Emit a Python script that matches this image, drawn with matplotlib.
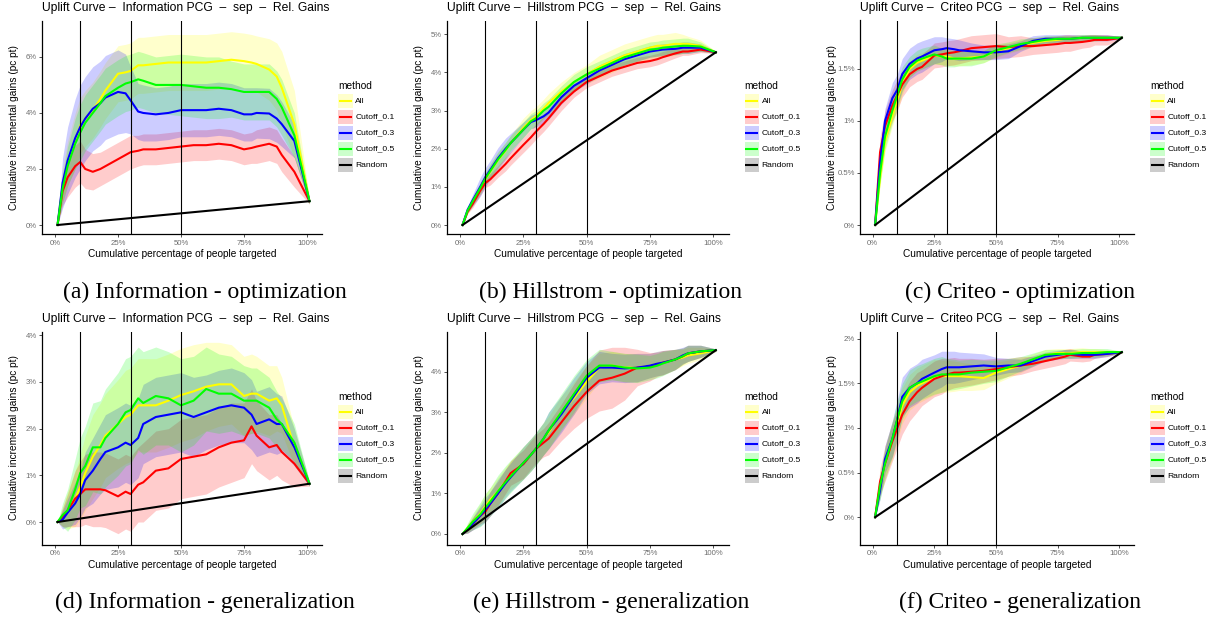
import numpy as np
import matplotlib
matplotlib.use("Agg")
import matplotlib.pyplot as plt
from matplotlib.patches import Rectangle

W, H = 1208, 621
plt.rcParams['font.family'] = ['Liberation Sans', 'DejaVu Sans']

# percentage of people targeted, shared by every curve
X_PCT = [1, 3, 5, 8, 10, 12, 15, 18, 20, 25, 28, 30, 33, 35, 40, 45, 50,
         55, 60, 65, 70, 75, 78, 80, 85, 88, 90, 95, 101]
RANDOM_X = [1, 101]
CUTOFFS = [10, 30, 50]
METHODS = ['All', 'Cutoff_0.1', 'Cutoff_0.3', 'Cutoff_0.5']

# ---- Information, optimization
INFO_OPT_ALL = [0, 1.4, 2.2, 3.0, 3.55, 3.8, 4.1, 4.5, 4.8, 5.4, 5.45, 5.5, 5.7, 5.7, 5.75, 5.8, 5.8,
                5.8, 5.8, 5.85, 5.9, 5.85, 5.8, 5.75, 5.55, 5.3, 4.9, 3.6, 0.85]
INFO_OPT_ALL_SD = [0, 0.6, 0.8, 1.0, 1.0, 1.0, 1.0, 1.0, 1.0, 1.0, 1.0, 1.0, 1.0, 1.0, 1.0, 1.0, 1.0,
                   1.0, 1.0, 1.0, 1.0, 1.0, 1.0, 1.0, 1.1, 1.2, 1.3, 1.2, 0.1]
INFO_OPT_C01 = [0, 1.2, 1.7, 2.1, 2.25, 2.0, 1.9, 2.0, 2.1, 2.35, 2.5, 2.6, 2.65, 2.7, 2.7, 2.75, 2.8,
                2.85, 2.85, 2.9, 2.85, 2.7, 2.75, 2.8, 2.9, 2.8, 2.5, 1.9, 0.85]
INFO_OPT_C01_SD = [0, 0.5, 0.7, 0.75, 0.75, 0.7, 0.65, 0.6, 0.6, 0.6, 0.6, 0.6, 0.55, 0.55, 0.55, 0.55, 0.55,
                   0.55, 0.55, 0.55, 0.55, 0.55, 0.55, 0.6, 0.6, 0.6, 0.6, 0.55, 0.1]
INFO_OPT_C03 = [0, 1.5, 2.3, 3.1, 3.5, 3.8, 4.15, 4.35, 4.55, 4.75, 4.7, 4.45, 4.05, 4.0, 3.95, 4.0, 4.1,
                4.1, 4.1, 4.15, 4.1, 3.95, 3.95, 4.0, 3.98, 3.8, 3.6, 3.0, 0.85]
INFO_OPT_C03_SD = [0, 0.9, 1.2, 1.4, 1.5, 1.5, 1.5, 1.5, 1.5, 1.5, 1.4, 1.2, 1.0, 1.0, 0.95, 0.95, 0.95,
                   0.95, 0.95, 0.95, 0.95, 0.95, 0.95, 0.9, 0.9, 0.85, 0.8, 0.6, 0.1]
INFO_OPT_C05 = [0, 1.3, 2.1, 2.9, 3.3, 3.65, 4.0, 4.35, 4.6, 4.9, 5.05, 5.1, 5.2, 5.15, 5.0, 5.0, 5.0,
                4.95, 4.9, 4.9, 4.85, 4.75, 4.75, 4.75, 4.75, 4.5, 4.2, 3.2, 0.85]
INFO_OPT_C05_SD = [0, 0.5, 0.7, 0.9, 1.0, 1.0, 1.0, 1.0, 1.0, 1.0, 1.0, 1.0, 1.0, 1.0, 1.0, 1.05, 1.1,
                   1.1, 1.1, 1.1, 1.0, 1.0, 1.0, 1.0, 1.0, 1.0, 1.0, 0.8, 0.1]
INFO_OPT_RANDOM = [0, 0.85]

# ---- Hillstrom, optimization
HILL_OPT_ALL = [0, 0.35, 0.6, 0.95, 1.2, 1.4, 1.7, 1.95, 2.15, 2.55, 2.75, 2.85, 3.05, 3.2, 3.5, 3.75, 3.95,
                4.15, 4.3, 4.45, 4.55, 4.65, 4.7, 4.7, 4.75, 4.75, 4.75, 4.7, 4.53]
HILL_OPT_ALL_SD = [0, 0.05, 0.1, 0.15, 0.15, 0.2, 0.2, 0.2, 0.2, 0.25, 0.25, 0.25, 0.25, 0.25, 0.25, 0.25, 0.25,
                   0.3, 0.3, 0.3, 0.3, 0.3, 0.3, 0.3, 0.3, 0.25, 0.2, 0.15, 0.03]
HILL_OPT_C01 = [0, 0.35, 0.55, 0.9, 1.1, 1.2, 1.4, 1.6, 1.75, 2.1, 2.3, 2.45, 2.65, 2.8, 3.2, 3.5, 3.75,
                3.9, 4.05, 4.15, 4.25, 4.3, 4.35, 4.4, 4.5, 4.55, 4.55, 4.6, 4.53]
HILL_OPT_C01_SD = [0, 0.05, 0.1, 0.12, 0.12, 0.15, 0.15, 0.18, 0.18, 0.2, 0.2, 0.2, 0.2, 0.2, 0.2, 0.15, 0.15,
                   0.15, 0.15, 0.15, 0.15, 0.15, 0.15, 0.15, 0.12, 0.1, 0.1, 0.08, 0.03]
HILL_OPT_C03 = [0, 0.4, 0.65, 1.0, 1.25, 1.45, 1.75, 2.0, 2.15, 2.5, 2.7, 2.75, 2.85, 2.95, 3.35, 3.65, 3.85,
                4.05, 4.2, 4.35, 4.45, 4.55, 4.58, 4.6, 4.62, 4.65, 4.65, 4.65, 4.53]
HILL_OPT_C03_SD = [0, 0.08, 0.15, 0.25, 0.25, 0.25, 0.28, 0.28, 0.25, 0.2, 0.18, 0.18, 0.18, 0.18, 0.18, 0.15, 0.15,
                   0.15, 0.15, 0.15, 0.15, 0.15, 0.15, 0.15, 0.15, 0.15, 0.15, 0.1, 0.03]
HILL_OPT_C05 = [0, 0.38, 0.62, 0.97, 1.22, 1.42, 1.72, 1.97, 2.15, 2.5, 2.72, 2.8, 3.0, 3.1, 3.45, 3.75, 3.95,
                4.1, 4.25, 4.4, 4.5, 4.6, 4.62, 4.65, 4.68, 4.7, 4.7, 4.68, 4.53]
HILL_OPT_C05_SD = [0, 0.06, 0.1, 0.15, 0.15, 0.18, 0.2, 0.2, 0.2, 0.2, 0.2, 0.2, 0.2, 0.2, 0.2, 0.2, 0.2,
                   0.2, 0.2, 0.2, 0.2, 0.2, 0.2, 0.2, 0.2, 0.2, 0.2, 0.12, 0.03]
HILL_OPT_RANDOM = [0, 4.53]

# ---- Criteo, optimization
CRIT_OPT_ALL = [0, 0.45, 0.8, 1.05, 1.2, 1.35, 1.5, 1.56, 1.58, 1.63, 1.62, 1.62, 1.60, 1.60, 1.61, 1.62, 1.67,
                1.70, 1.73, 1.75, 1.77, 1.78, 1.79, 1.79, 1.80, 1.80, 1.80, 1.80, 1.80]
CRIT_OPT_ALL_SD = [0, 0.08, 0.1, 0.1, 0.1, 0.1, 0.08, 0.08, 0.08, 0.08, 0.08, 0.08, 0.07, 0.07, 0.07, 0.06, 0.06,
                   0.05, 0.05, 0.04, 0.04, 0.03, 0.03, 0.03, 0.03, 0.03, 0.03, 0.02, 0.01]
CRIT_OPT_C01 = [0, 0.7, 0.95, 1.15, 1.25, 1.35, 1.45, 1.5, 1.52, 1.63, 1.64, 1.65, 1.66, 1.67, 1.70, 1.71, 1.72,
                1.71, 1.72, 1.72, 1.73, 1.74, 1.75, 1.75, 1.76, 1.77, 1.78, 1.78, 1.80]
CRIT_OPT_C01_SD = [0, 0.15, 0.15, 0.15, 0.15, 0.12, 0.12, 0.12, 0.12, 0.12, 0.12, 0.12, 0.12, 0.12, 0.12, 0.12, 0.12,
                   0.1, 0.1, 0.08, 0.08, 0.08, 0.08, 0.08, 0.06, 0.06, 0.05, 0.05, 0.01]
CRIT_OPT_C03 = [0, 0.6, 1.0, 1.22, 1.3, 1.45, 1.55, 1.6, 1.62, 1.68, 1.69, 1.70, 1.69, 1.68, 1.67, 1.66, 1.66,
                1.67, 1.72, 1.77, 1.79, 1.79, 1.79, 1.79, 1.80, 1.80, 1.80, 1.80, 1.80]
CRIT_OPT_C03_SD = [0, 0.1, 0.12, 0.15, 0.15, 0.15, 0.15, 0.15, 0.15, 0.13, 0.12, 0.1, 0.1, 0.1, 0.08, 0.07, 0.07,
                   0.07, 0.05, 0.05, 0.04, 0.04, 0.04, 0.04, 0.03, 0.03, 0.03, 0.03, 0.01]
CRIT_OPT_C05 = [0, 0.5, 0.85, 1.1, 1.25, 1.4, 1.52, 1.58, 1.6, 1.64, 1.62, 1.6, 1.6, 1.6, 1.6, 1.62, 1.68,
                1.71, 1.74, 1.76, 1.78, 1.79, 1.79, 1.79, 1.80, 1.80, 1.80, 1.80, 1.80]
CRIT_OPT_C05_SD = [0, 0.1, 0.12, 0.12, 0.12, 0.12, 0.1, 0.1, 0.1, 0.09, 0.08, 0.08, 0.08, 0.07, 0.07, 0.06, 0.06,
                   0.05, 0.05, 0.04, 0.04, 0.03, 0.03, 0.03, 0.03, 0.03, 0.03, 0.02, 0.01]
CRIT_OPT_RANDOM = [0, 1.80]

# ---- Information, generalization
INFO_GEN_ALL = [0, 0.1, 0.25, 0.5, 0.75, 1.05, 1.4, 1.65, 1.85, 2.1, 2.25, 2.3, 2.5, 2.5, 2.5, 2.6, 2.72,
                2.8, 2.9, 2.95, 2.95, 2.7, 2.75, 2.75, 2.6, 2.65, 2.5, 1.6, 0.82]
INFO_GEN_ALL_SD = [0, 0.2, 0.4, 0.6, 0.7, 0.8, 0.9, 0.9, 0.9, 0.95, 1.0, 1.0, 1.0, 1.0, 1.0, 1.0, 1.0,
                   1.0, 0.95, 0.9, 0.85, 0.85, 0.85, 0.8, 0.75, 0.7, 0.6, 0.4, 0.05]
INFO_GEN_C01 = [0, 0.1, 0.25, 0.5, 0.6, 0.7, 0.7, 0.7, 0.68, 0.55, 0.65, 0.6, 0.8, 0.85, 1.1, 1.15, 1.35,
                1.4, 1.45, 1.6, 1.7, 1.75, 2.05, 1.85, 1.6, 1.65, 1.5, 1.25, 0.82]
INFO_GEN_C01_SD = [0, 0.2, 0.35, 0.6, 0.7, 0.75, 0.8, 0.8, 0.8, 0.8, 0.8, 0.8, 0.8, 0.85, 0.85, 0.85, 0.85,
                   0.85, 0.85, 0.85, 0.85, 0.8, 0.8, 0.75, 0.7, 0.65, 0.6, 0.5, 0.05]
INFO_GEN_C03 = [0, 0.05, 0.2, 0.4, 0.6, 0.9, 1.1, 1.35, 1.5, 1.6, 1.7, 1.65, 1.8, 2.1, 2.25, 2.3, 2.35,
                2.25, 2.35, 2.45, 2.5, 2.45, 2.3, 2.1, 2.2, 2.1, 2.1, 1.6, 0.82]
INFO_GEN_C03_SD = [0, 0.2, 0.3, 0.45, 0.5, 0.6, 0.7, 0.75, 0.8, 0.85, 0.85, 0.85, 0.85, 0.85, 0.85, 0.85, 0.85,
                   0.85, 0.8, 0.8, 0.8, 0.75, 0.75, 0.7, 0.7, 0.65, 0.6, 0.4, 0.05]
INFO_GEN_C05 = [0, 0.15, 0.25, 0.7, 1.05, 1.2, 1.6, 1.6, 1.8, 2.1, 2.35, 2.4, 2.65, 2.55, 2.7, 2.65, 2.5,
                2.6, 2.85, 2.75, 2.75, 2.6, 2.6, 2.6, 2.45, 2.2, 2.1, 1.7, 0.82]
INFO_GEN_C05_SD = [0, 0.25, 0.45, 0.65, 0.75, 0.85, 0.95, 1.0, 1.05, 1.1, 1.15, 1.15, 1.1, 1.1, 1.05, 1.0, 1.0,
                   0.95, 0.9, 0.85, 0.8, 0.75, 0.7, 0.7, 0.65, 0.6, 0.55, 0.4, 0.05]
INFO_GEN_RANDOM = [0, 0.82]

# ---- Hillstrom, generalization
HILL_GEN_ALL = [0, 0.15, 0.3, 0.5, 0.68, 0.85, 1.05, 1.3, 1.45, 1.75, 1.95, 2.1, 2.35, 2.5, 3.0, 3.35, 3.75,
                4.1, 4.15, 4.1, 4.1, 4.15, 4.2, 4.22, 4.3, 4.35, 4.4, 4.45, 4.53]
HILL_GEN_ALL_SD = [0, 0.1, 0.15, 0.25, 0.3, 0.3, 0.35, 0.35, 0.35, 0.4, 0.4, 0.4, 0.4, 0.4, 0.4, 0.4, 0.4,
                   0.35, 0.35, 0.35, 0.35, 0.3, 0.3, 0.3, 0.25, 0.2, 0.2, 0.15, 0.03]
HILL_GEN_C01 = [0, 0.12, 0.25, 0.45, 0.55, 0.75, 1.0, 1.3, 1.5, 1.72, 1.95, 2.1, 2.25, 2.35, 2.75, 3.15, 3.5,
                3.78, 3.85, 3.95, 4.1, 4.12, 4.18, 4.22, 4.3, 4.38, 4.45, 4.5, 4.53]
HILL_GEN_C01_SD = [0, 0.1, 0.15, 0.2, 0.25, 0.3, 0.3, 0.3, 0.3, 0.35, 0.35, 0.35, 0.35, 0.4, 0.45, 0.55, 0.65,
                   0.75, 0.75, 0.65, 0.45, 0.35, 0.3, 0.3, 0.25, 0.2, 0.2, 0.15, 0.03]
HILL_GEN_C03 = [0, 0.12, 0.25, 0.45, 0.6, 0.75, 1.0, 1.25, 1.4, 1.75, 1.95, 2.1, 2.35, 2.55, 2.95, 3.4, 3.85,
                4.1, 4.1, 4.08, 4.1, 4.15, 4.2, 4.22, 4.3, 4.4, 4.45, 4.5, 4.53]
HILL_GEN_C03_SD = [0, 0.1, 0.15, 0.25, 0.3, 0.3, 0.35, 0.35, 0.35, 0.4, 0.4, 0.4, 0.4, 0.45, 0.45, 0.45, 0.4,
                   0.4, 0.35, 0.35, 0.35, 0.3, 0.3, 0.3, 0.25, 0.2, 0.2, 0.15, 0.03]
HILL_GEN_C05 = [0, 0.15, 0.3, 0.48, 0.65, 0.8, 1.05, 1.28, 1.42, 1.75, 1.95, 2.1, 2.35, 2.55, 3.0, 3.45, 3.9,
                4.15, 4.15, 4.1, 4.08, 4.1, 4.15, 4.2, 4.3, 4.38, 4.45, 4.5, 4.53]
HILL_GEN_C05_SD = [0, 0.12, 0.2, 0.3, 0.35, 0.35, 0.4, 0.4, 0.4, 0.4, 0.4, 0.4, 0.4, 0.45, 0.45, 0.45, 0.4,
                   0.4, 0.35, 0.35, 0.35, 0.3, 0.3, 0.3, 0.25, 0.2, 0.2, 0.15, 0.03]
HILL_GEN_RANDOM = [0, 4.53]

# ---- Criteo, generalization
CRIT_GEN_ALL = [0, 0.35, 0.6, 0.85, 1.05, 1.25, 1.4, 1.47, 1.5, 1.57, 1.58, 1.58, 1.58, 1.58, 1.57, 1.56, 1.62,
                1.66, 1.7, 1.76, 1.82, 1.84, 1.84, 1.84, 1.85, 1.85, 1.85, 1.85, 1.85]
CRIT_GEN_ALL_SD = [0, 0.12, 0.15, 0.2, 0.2, 0.2, 0.2, 0.2, 0.2, 0.2, 0.18, 0.18, 0.17, 0.16, 0.15, 0.13, 0.12,
                   0.1, 0.08, 0.07, 0.06, 0.05, 0.05, 0.05, 0.05, 0.04, 0.04, 0.03, 0.01]
CRIT_GEN_C01 = [0, 0.4, 0.6, 0.85, 1.0, 1.15, 1.3, 1.4, 1.45, 1.55, 1.58, 1.6, 1.62, 1.62, 1.63, 1.64, 1.66,
                1.68, 1.7, 1.72, 1.75, 1.78, 1.8, 1.82, 1.8, 1.8, 1.82, 1.83, 1.85]
CRIT_GEN_C01_SD = [0, 0.15, 0.2, 0.22, 0.22, 0.22, 0.22, 0.22, 0.2, 0.2, 0.2, 0.18, 0.17, 0.16, 0.15, 0.13, 0.12,
                   0.1, 0.1, 0.08, 0.08, 0.08, 0.08, 0.07, 0.06, 0.05, 0.04, 0.03, 0.01]
CRIT_GEN_C03 = [0, 0.3, 0.65, 0.88, 1.1, 1.35, 1.45, 1.5, 1.55, 1.62, 1.66, 1.68, 1.68, 1.68, 1.69, 1.70, 1.69,
                1.70, 1.70, 1.75, 1.8, 1.82, 1.83, 1.83, 1.82, 1.82, 1.82, 1.83, 1.85]
CRIT_GEN_C03_SD = [0, 0.1, 0.15, 0.2, 0.22, 0.22, 0.22, 0.22, 0.22, 0.2, 0.2, 0.18, 0.18, 0.17, 0.15, 0.13, 0.1,
                   0.08, 0.07, 0.06, 0.05, 0.05, 0.05, 0.05, 0.04, 0.04, 0.04, 0.03, 0.01]
CRIT_GEN_C05 = [0, 0.35, 0.6, 0.88, 1.1, 1.3, 1.45, 1.5, 1.52, 1.58, 1.6, 1.6, 1.6, 1.6, 1.62, 1.63, 1.64,
                1.68, 1.72, 1.77, 1.82, 1.83, 1.83, 1.83, 1.84, 1.84, 1.84, 1.85, 1.85]
CRIT_GEN_C05_SD = [0, 0.15, 0.18, 0.2, 0.2, 0.2, 0.2, 0.2, 0.2, 0.2, 0.2, 0.18, 0.17, 0.16, 0.15, 0.13, 0.12,
                   0.1, 0.08, 0.07, 0.06, 0.05, 0.05, 0.05, 0.05, 0.05, 0.05, 0.04, 0.01]
CRIT_GEN_RANDOM = [0, 1.85]

COLORS = {'All': '#FFFF00', 'Cutoff_0.1': '#FF0000', 'Cutoff_0.3': '#0000FF',
          'Cutoff_0.5': '#00FF00', 'Random': '#000000'}

# pixel boxes (left, top, right, bottom) of the six plotting areas
COLS = [(42.3, 322.2), (447.2, 728.6), (860.2, 1134.3)]
ROWS = [(20.5, 234.0), (331.5, 544.5)]

panels = [
    dict(name='Information', caption='(a) Information - optimization', row=0, col=0,
         series=[(INFO_OPT_ALL, INFO_OPT_ALL_SD), (INFO_OPT_C01, INFO_OPT_C01_SD),
                 (INFO_OPT_C03, INFO_OPT_C03_SD), (INFO_OPT_C05, INFO_OPT_C05_SD)],
         random=INFO_OPT_RANDOM, ylim=(-0.321, 7.30), yticks=[0, 2, 4, 6]),
    dict(name='Hillstrom', caption='(b) Hillstrom - optimization', row=0, col=1,
         series=[(HILL_OPT_ALL, HILL_OPT_ALL_SD), (HILL_OPT_C01, HILL_OPT_C01_SD),
                 (HILL_OPT_C03, HILL_OPT_C03_SD), (HILL_OPT_C05, HILL_OPT_C05_SD)],
         random=HILL_OPT_RANDOM, ylim=(-0.236, 5.363), yticks=[0, 1, 2, 3, 4, 5]),
    dict(name='Criteo', caption='(c) Criteo - optimization', row=0, col=2,
         series=[(CRIT_OPT_ALL, CRIT_OPT_ALL_SD), (CRIT_OPT_C01, CRIT_OPT_C01_SD),
                 (CRIT_OPT_C03, CRIT_OPT_C03_SD), (CRIT_OPT_C05, CRIT_OPT_C05_SD)],
         random=CRIT_OPT_RANDOM, ylim=(-0.0865, 1.966), yticks=[0, 0.5, 1, 1.5]),
    dict(name='Information', caption='(d) Information - generalization', row=1, col=0,
         series=[(INFO_GEN_ALL, INFO_GEN_ALL_SD), (INFO_GEN_C01, INFO_GEN_C01_SD),
                 (INFO_GEN_C03, INFO_GEN_C03_SD), (INFO_GEN_C05, INFO_GEN_C05_SD)],
         random=INFO_GEN_RANDOM, ylim=(-0.482, 4.082), yticks=[0, 1, 2, 3, 4]),
    dict(name='Hillstrom', caption='(e) Hillstrom - generalization', row=1, col=1,
         series=[(HILL_GEN_ALL, HILL_GEN_ALL_SD), (HILL_GEN_C01, HILL_GEN_C01_SD),
                 (HILL_GEN_C03, HILL_GEN_C03_SD), (HILL_GEN_C05, HILL_GEN_C05_SD)],
         random=HILL_GEN_RANDOM, ylim=(-0.259, 4.989), yticks=[0, 1, 2, 3, 4]),
    dict(name='Criteo', caption='(f) Criteo - generalization', row=1, col=2,
         series=[(CRIT_GEN_ALL, CRIT_GEN_ALL_SD), (CRIT_GEN_C01, CRIT_GEN_C01_SD),
                 (CRIT_GEN_C03, CRIT_GEN_C03_SD), (CRIT_GEN_C05, CRIT_GEN_C05_SD)],
         random=CRIT_GEN_RANDOM, ylim=(-0.306, 2.081), yticks=[0, 0.5, 1, 1.5, 2]),
]

fig = plt.figure(figsize=(W / 100, H / 100), dpi=100)


def fx(px):
    return px / W


def fy(py):
    return 1 - py / H


def pixel_axes(left, top, width, height):
    # axes whose data units are figure pixels, y growing downwards
    a = fig.add_axes([fx(left), fy(top + height), width / W, height / H])
    a.set_xlim(0, width)
    a.set_ylim(height, 0)
    a.axis('off')
    return a


def draw_key(left, top):
    key = pixel_axes(left, top, 70, 96)
    key.text(0, 8, 'method', fontsize=7.3, ha='left', va='center')
    for i, name in enumerate(METHODS + ['Random']):
        y0 = 15.5 + 16 * i
        key.add_patch(Rectangle((0, y0), 14.5, 14.7, facecolor=COLORS[name], alpha=0.2, lw=0))
        key.plot([1.8, 12.7], [y0 + 7.35, y0 + 7.35], color=COLORS[name], lw=1.5)
        key.text(17, y0 + 7.6, name, fontsize=6.1, ha='left', va='center')


x = np.array(X_PCT)
for p in panels:
    left, right = COLS[p['col']]
    top, bottom = ROWS[p['row']]
    ax = fig.add_axes([fx(left), fy(bottom), fx(right - left), (bottom - top) / H])

    for name, (mean, sd) in zip(METHODS, p['series']):
        m = np.array(mean)
        s = np.array(sd)
        ax.fill_between(x, m - s, m + s, color=COLORS[name], alpha=0.2, lw=0)
    for name, (mean, sd) in zip(METHODS, p['series']):
        ax.plot(x, mean, color=COLORS[name], lw=1.5)
    ax.plot(RANDOM_X, p['random'], color='black', lw=1.5)
    for c in CUTOFFS:
        ax.axvline(c, color='black', lw=0.8)

    ax.set_xlim(-5.05, 106.05)
    ax.set_ylim(*p['ylim'])
    ax.set_xticks([0, 25, 50, 75, 100])
    ax.set_xticklabels(['0%', '25%', '50%', '75%', '100%'])
    ax.set_yticks(p['yticks'])
    ax.set_yticklabels([f'{v:g}%' for v in p['yticks']])
    ax.tick_params(labelsize=5.6, labelcolor='#6e6e6e', color='#333333',
                   length=2.5, width=0.6, pad=1.5)
    for side in ['top', 'right']:
        ax.spines[side].set_visible(False)
    for side in ['left', 'bottom']:
        ax.spines[side].set_linewidth(0.9)

    cx = (left + right) / 2
    fig.text(fx(left), fy(top - 12.5),
             f'Uplift Curve \u2013  {p["name"]} PCG  \u2013  sep  \u2013  Rel. Gains',
             ha='left', va='center', fontsize=8.7)
    fig.text(fx(cx), fy(bottom + 20), 'Cumulative percentage of people targeted',
             ha='center', va='center', fontsize=7.3)
    fig.text(fx(left - 28.5), fy((top + bottom) / 2), 'Cumulative incremental gains (pc pt)',
             ha='center', va='center', rotation=90, fontsize=7.3)
    fig.text(fx(cx + 23), fy(bottom + 58), p['caption'], ha='center', va='center',
             fontsize=17, family=['Liberation Serif', 'DejaVu Serif'])

    draw_key(right + 16, top + 57.5)

fig.savefig('out.png', dpi=100)
